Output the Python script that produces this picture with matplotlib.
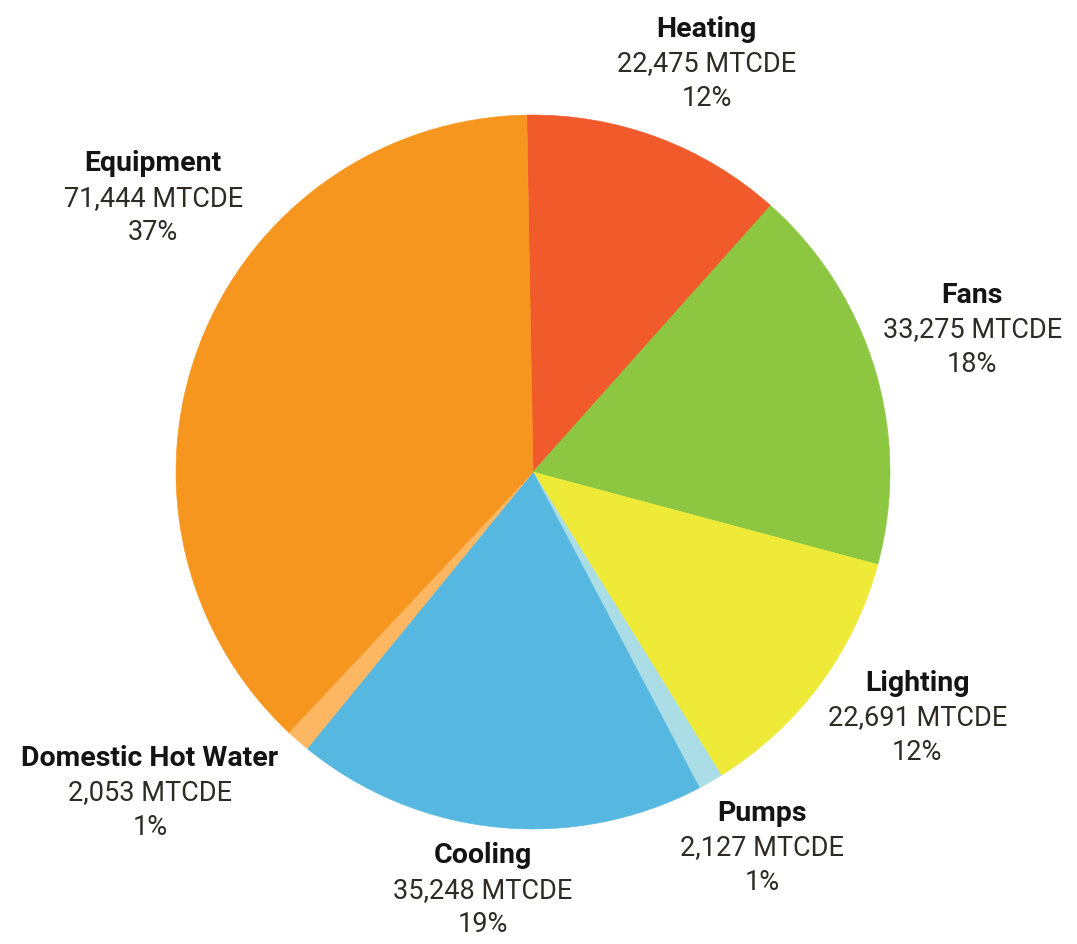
import matplotlib.pyplot as plt

# slice data, clockwise from the top
categories = ["Heating", "Fans", "Lighting", "Pumps", "Cooling",
              "Domestic Hot Water", "Equipment"]
values = [22475, 33275, 22691, 2127, 35248, 2053, 71444]
percents = ["12%", "18%", "12%", "1%", "19%", "1%", "37%"]
colors = ["#F15A2B", "#8DC641", "#EEEA37", "#AADDE5", "#56B8E0",
          "#FDB762", "#F6961F"]

# label anchor (centre of the value line), in pie-radius units
label_pos = [(0.487, 1.143), (1.230, 0.398), (1.076, -0.689), (0.641, -1.053),
             (-0.140, -1.171), (-1.073, -0.899), (-1.064, 0.767)]

plt.rcParams['font.family'] = ['Roboto', 'DejaVu Sans']

W, H = 1077, 944
cx, cy, R = 533, 472, 357  # pie centre / radius in pixels

fig = plt.figure(figsize=(W / 100, H / 100), dpi=100)
ax = fig.add_axes([0, 0, 1, 1])

wedges, _ = ax.pie(values, colors=colors, startangle=91, counterclock=False,
                   radius=1, center=(0, 0), wedgeprops=dict(linewidth=0.4))
for w, c in zip(wedges, colors):
    w.set_edgecolor(c)  # hide antialias seams

ax.set_xlim(-cx / R, (W - cx) / R)
ax.set_ylim(-(H - cy) / R, cy / R)
ax.set_aspect('equal')
ax.axis('off')

step = 0.097
for name, val, pct, (x, y) in zip(categories, values, percents, label_pos):
    ax.text(x, y + step, name, ha='center', va='center', fontsize=20.5,
            fontweight='bold', color='#141414')
    ax.text(x, y, f"{val:,} MTCDE", ha='center', va='center', fontsize=19.5,
            color='#2E2A26')
    ax.text(x, y - step, pct, ha='center', va='center', fontsize=19.5,
            color='#2E2A26')

fig.savefig("out.png", dpi=100)
